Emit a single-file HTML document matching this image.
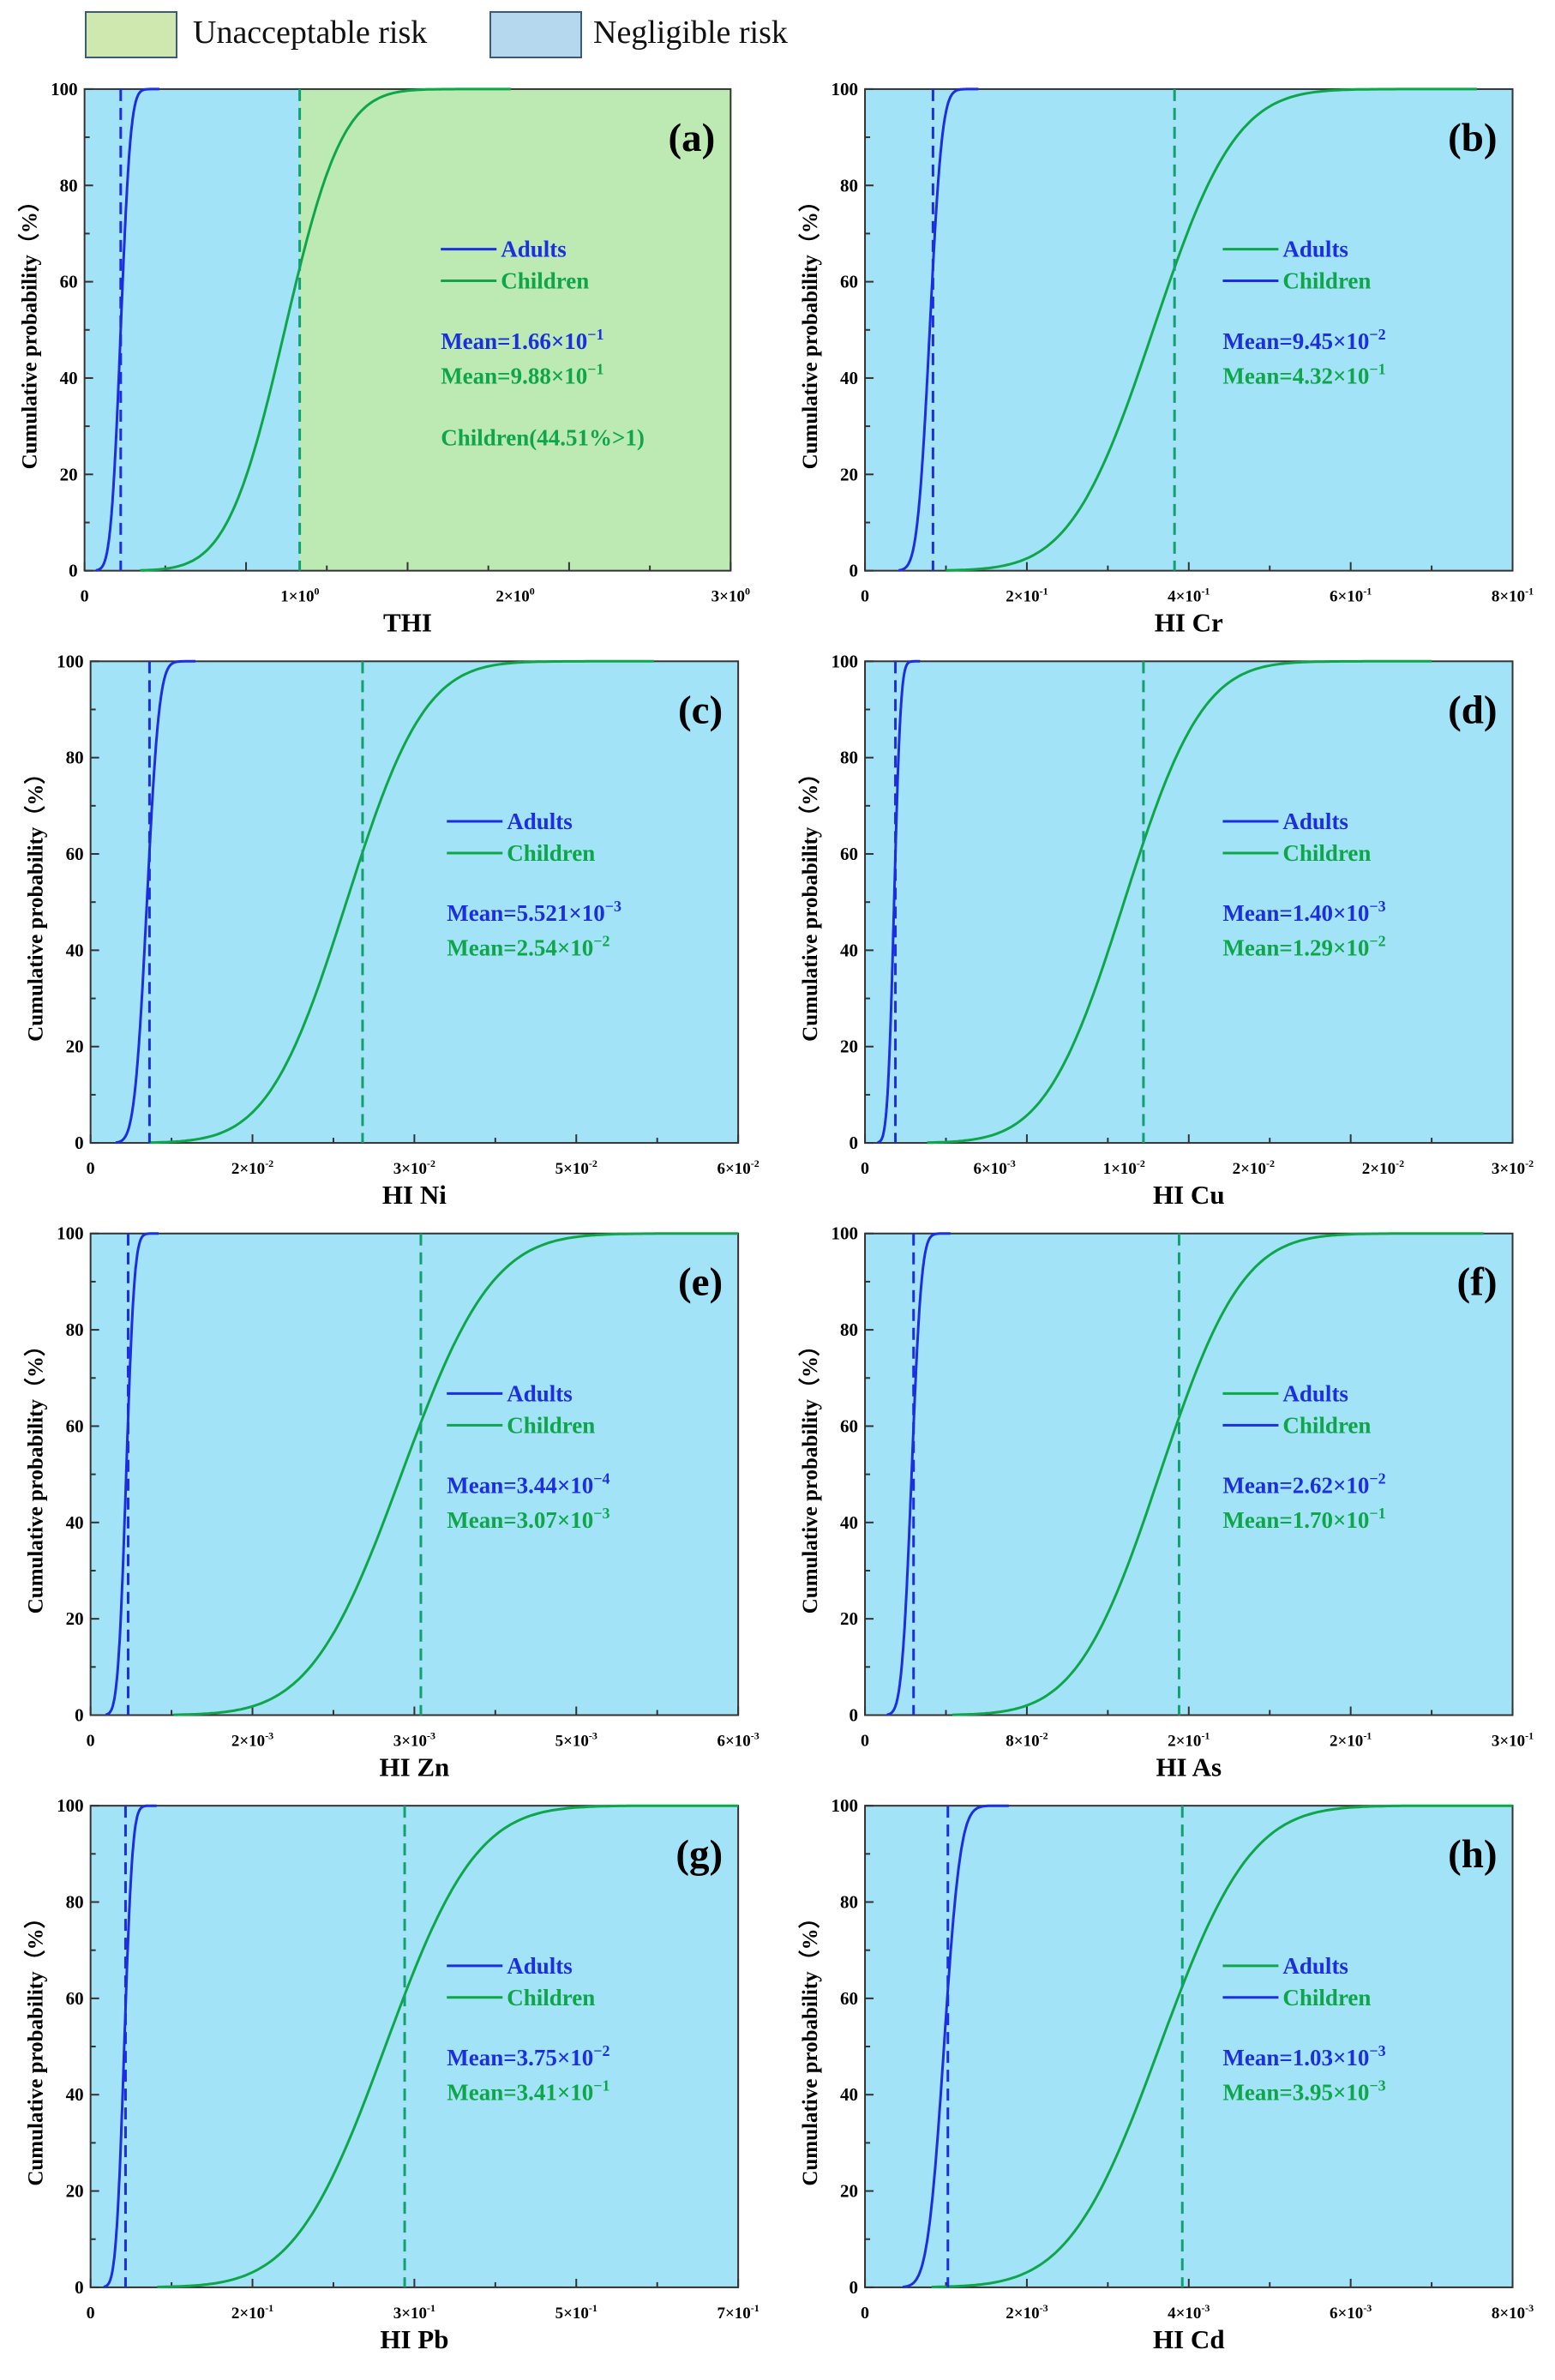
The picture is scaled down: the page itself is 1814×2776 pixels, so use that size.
<!DOCTYPE html>
<html><head><meta charset="utf-8"><style>
html,body{margin:0;padding:0;background:#fff;}
svg{display:block;font-family:"Liberation Serif",serif;}
</style></head><body>
<svg id="s" width="1814" height="2776" viewBox="0 0 1814 2776" xmlns="http://www.w3.org/2000/svg">
<rect x="100" y="14" width="106" height="53" fill="#cfe8b0" stroke="#3a5a80" stroke-width="2"/>
<text x="225" y="50" font-size="38" fill="#111">Unacceptable risk</text>
<rect x="572" y="14" width="106" height="53" fill="#b5d8ef" stroke="#3a5a80" stroke-width="2"/>
<text x="692" y="50" font-size="38" fill="#111">Negligible risk</text>
</svg>
<script>
const S=1.761, svg=document.getElementById('s');
let h='';
function erf(x){const t=1/(1+0.3275911*Math.abs(x));const y=1-(((((1.061405429*t-1.453152027)*t)+1.421413741)*t-0.284496736)*t+0.254829592)*t*Math.exp(-x*x);return x>=0?y:-y;}
function cdf(x,m,s){return 0.5*(1+erf((x-m)/(s*Math.SQRT2)));}
const BL='#1b2fe0',GR='#0fa64a';
const P=[
{l:'(a)',c:0,r:0,xl:'THI',A:[.056,.012],C:[.31,.07],da:.056,dc:.333,tk:[[1/3,'1×10','0'],[2/3,'2×10','0'],[1,'3×10','0']],m:['1.66×10','−1','9.88×10','−1'],sw:0,green:true},
{l:'(b)',c:1,r:0,xl:'HI Cr',A:[.1,.015],C:[.445,.1],da:.105,dc:.478,tk:[[.25,'2×10','-1'],[.5,'4×10','-1'],[.75,'6×10','-1'],[1,'8×10','-1']],m:['9.45×10','−2','4.32×10','−1'],sw:1},
{l:'(c)',c:0,r:1,xl:'HI Ni',A:[.087,.015],C:[.395,.095],da:.091,dc:.42,tk:[[.25,'2×10','-2'],[.5,'3×10','-2'],[.75,'5×10','-2'],[1,'6×10','-2']],m:['5.521×10','−3','2.54×10','−2'],sw:0},
{l:'(d)',c:1,r:1,xl:'HI Cu',A:[.045,.008],C:[.40,.095],da:.047,dc:.43,tk:[[.2,'6×10','-3'],[.4,'1×10','-2'],[.6,'2×10','-2'],[.8,'2×10','-2'],[1,'3×10','-2']],m:['1.40×10','−3','1.29×10','−2'],sw:0},
{l:'(e)',c:0,r:2,xl:'HI Zn',A:[.055,.01],C:[.48,.11],da:.058,dc:.51,tk:[[.25,'2×10','-3'],[.5,'3×10','-3'],[.75,'5×10','-3'],[1,'6×10','-3']],m:['3.44×10','−4','3.07×10','−3'],sw:0},
{l:'(f)',c:1,r:2,xl:'HI As',A:[.072,.012],C:[.455,.1],da:.075,dc:.485,tk:[[.25,'8×10','-2'],[.5,'2×10','-1'],[.75,'2×10','-1'],[1,'3×10','-1']],m:['2.62×10','−2','1.70×10','−1'],sw:1},
{l:'(g)',c:0,r:3,xl:'HI Pb',A:[.052,.01],C:[.455,.11],da:.054,dc:.485,tk:[[.25,'2×10','-1'],[.5,'3×10','-1'],[.75,'5×10','-1'],[1,'7×10','-1']],m:['3.75×10','−2','3.41×10','−1'],sw:0},
{l:'(h)',c:1,r:3,xl:'HI Cd',A:[.122,.02],C:[.455,.11],da:.128,dc:.49,tk:[[.25,'2×10','-3'],[.5,'4×10','-3'],[.75,'6×10','-3'],[1,'8×10','-3']],m:['1.03×10','−3','3.95×10','−3'],sw:1}
];
const tops=[59,438,817,1196];
P.forEach((p,k)=>{
 let xl=p.c?573:(p.r==0?56:60), xr=p.c?1002:(p.r==0?484:489);
 const L=xl*S,R=xr*S,T=tops[p.r]*S,B=(tops[p.r]+319)*S,W=R-L,H=B-T;
 h+=`<clipPath id="c${k}"><rect x="${L}" y="${T-3}" width="${W}" height="${H+6}"/></clipPath>`;
 h+=`<rect x="${L}" y="${T}" width="${W}" height="${H}" fill="#a3e3f8"/>`;
 if(p.green)h+=`<rect x="${L+W/3}" y="${T}" width="${W*2/3}" height="${H}" fill="#bdeab3"/>`;
 h+=`<rect x="${L}" y="${T}" width="${W}" height="${H}" fill="none" stroke="#333" stroke-width="2"/>`;
 for(let i=0;i<=10;i++){const y=B-H*i/10;h+=`<line x1="${L}" x2="${L+(i%2?6:10)}" y1="${y}" y2="${y}" stroke="#333" stroke-width="2"/>`;
  if(i%2==0)h+=`<text x="${L-8}" y="${y+7}" font-size="21" font-weight="bold" text-anchor="end">${i*10}</text>`;}
 for(let i=0;i<=8;i++){const x=L+W*i/8;h+=`<line x1="${x}" x2="${x}" y1="${B}" y2="${B-(i%2?6:10)}" stroke="#333" stroke-width="2"/>`;}
 h+=`<text x="${L}" y="${B+36}" font-size="20" font-weight="bold" text-anchor="middle">0</text>`;
 p.tk.forEach(t=>{h+=`<text x="${L+W*t[0]}" y="${B+36}" font-size="19" font-weight="bold" text-anchor="middle">${t[1]}<tspan font-size="12" dy="-8">${t[2]}</tspan></text>`;});
 h+=`<text x="${L+W/2}" y="${B+71}" font-size="31" font-weight="bold" text-anchor="middle">${p.xl}</text>`;
 h+=`<text transform="translate(${L-56},${T+H/2}) rotate(-90)" font-size="25" font-weight="bold" text-anchor="middle">Cumulative probability（%）</text>`;
 const curve=(m,s,col)=>{let d='';for(let i=0;i<=200;i++){const f=m-3.2*s+i*(8.2*s)/200;const v=cdf(f,m,s);d+=(i?'L':'M')+(L+W*f).toFixed(1)+','+(B-H*v).toFixed(1);}return `<path d="${d}" fill="none" stroke="${col}" stroke-width="3" clip-path="url(#c${k})"/>`;};
 h+=curve(p.A[0],p.A[1],BL)+curve(p.C[0],p.C[1],GR);
 h+=`<line x1="${L+W*p.da}" x2="${L+W*p.da}" y1="${T}" y2="${B}" stroke="${BL}" stroke-width="3" stroke-dasharray="14,8"/>`;
 h+=`<line x1="${L+W*p.dc}" x2="${L+W*p.dc}" y1="${T}" y2="${B}" stroke="#13a070" stroke-width="3" stroke-dasharray="14,8"/>`;
 h+=`<text x="${R-18}" y="${T+72}" font-size="47" font-weight="bold" text-anchor="end">${p.l}</text>`;
 const lx=(p.c?810:(p.r==0?292:296))*S, ty=tops[p.r]*S;
 const c1=p.sw?GR:BL,c2=p.sw?BL:GR;
 h+=`<line x1="${lx}" x2="${lx+65}" y1="${ty+106*S}" y2="${ty+106*S}" stroke="${c1}" stroke-width="3"/>`;
 h+=`<line x1="${lx}" x2="${lx+65}" y1="${ty+127*S}" y2="${ty+127*S}" stroke="${c2}" stroke-width="3"/>`;
 h+=`<text x="${lx+70}" y="${ty+106*S+9}" font-size="27" font-weight="bold" fill="${BL}">Adults</text>`;
 h+=`<text x="${lx+70}" y="${ty+127*S+9}" font-size="27" font-weight="bold" fill="${GR}">Children</text>`;
 h+=`<text x="${lx}" y="${ty+172*S}" font-size="27" font-weight="bold" fill="${BL}">Mean=${p.m[0]}<tspan font-size="18" dy="-11">${p.m[1]}</tspan></text>`;
 h+=`<text x="${lx}" y="${ty+195*S}" font-size="27" font-weight="bold" fill="${GR}">Mean=${p.m[2]}<tspan font-size="18" dy="-11">${p.m[3]}</tspan></text>`;
 if(p.green)h+=`<text x="${lx}" y="${ty+236*S}" font-size="27" font-weight="bold" fill="${GR}">Children(44.51%&gt;1)</text>`;
});
svg.insertAdjacentHTML('beforeend',h);
</script>
</body></html>
